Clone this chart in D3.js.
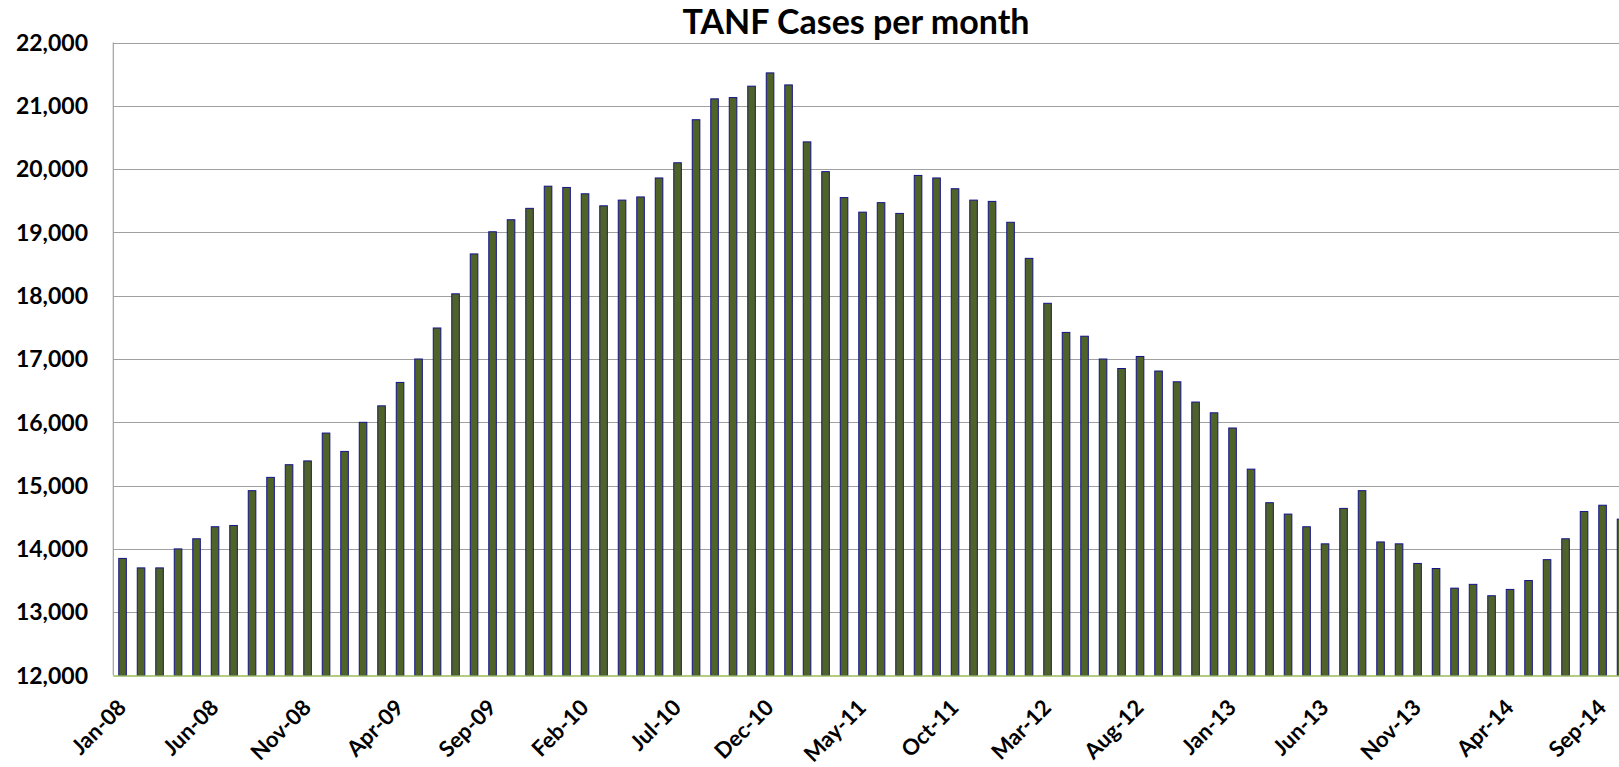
<!DOCTYPE html>
<html>
<head>
<meta charset="utf-8">
<script src="https://cdn.jsdelivr.net/npm/d3@7"></script>
<style>
  html, body { margin: 0; padding: 0; background: #fff; overflow: hidden; }
  svg { display: block; font-family: Lato, "Open Sans", sans-serif; }
</style>
</head>
<body>
<div id="chart"></div>
<script>
// months shown on the chart (last one is cut off at the right edge)
var months = [
  "Jan-08","Feb-08","Mar-08","Apr-08","May-08","Jun-08","Jul-08","Aug-08","Sep-08","Oct-08","Nov-08","Dec-08",
  "Jan-09","Feb-09","Mar-09","Apr-09","May-09","Jun-09","Jul-09","Aug-09","Sep-09","Oct-09","Nov-09","Dec-09",
  "Jan-10","Feb-10","Mar-10","Apr-10","May-10","Jun-10","Jul-10","Aug-10","Sep-10","Oct-10","Nov-10","Dec-10",
  "Jan-11","Feb-11","Mar-11","Apr-11","May-11","Jun-11","Jul-11","Aug-11","Sep-11","Oct-11","Nov-11","Dec-11",
  "Jan-12","Feb-12","Mar-12","Apr-12","May-12","Jun-12","Jul-12","Aug-12","Sep-12","Oct-12","Nov-12","Dec-12",
  "Jan-13","Feb-13","Mar-13","Apr-13","May-13","Jun-13","Jul-13","Aug-13","Sep-13","Oct-13","Nov-13","Dec-13",
  "Jan-14","Feb-14","Mar-14","Apr-14","May-14","Jun-14","Jul-14","Aug-14","Sep-14","Oct-14"
];

var cases = [
  13850, 13700, 13700, 14000, 14160, 14350, 14370, 14920, 15130, 15330, 15390, 15830,
  15540, 16000, 16260, 16630, 17000, 17490, 18030, 18660, 19010, 19200, 19380, 19730,
  19710, 19610, 19420, 19510, 19560, 19860, 20100, 20780, 21110, 21130, 21310, 21520,
  21330, 20430, 19960, 19550, 19320, 19470, 19300, 19900, 19860, 19690, 19510, 19490,
  19160, 18590, 17880, 17420, 17360, 17000, 16850, 17040, 16810, 16640, 16320, 16150,
  15910, 15260, 14730, 14550, 14350, 14080, 14640, 14920, 14110, 14080, 13770, 13690,
  13380, 13440, 13260, 13360, 13500, 13830, 14160, 14590, 14690, 14470
];

var xTickLabels = ["Jan-08","Jun-08","Nov-08","Apr-09","Sep-09","Feb-10","Jul-10","Dec-10","May-11",
  "Oct-11","Mar-12","Aug-12","Jan-13","Jun-13","Nov-13","Apr-14","Sep-14"];

var yTicks = [12000, 13000, 14000, 15000, 16000, 17000, 18000, 19000, 20000, 21000, 22000];

var width = 1619, height = 767;
var plotLeft = 113.3, plotTop = 42.5, plotBottom = 675.5;
var step = 18.5;

var svg = d3.select("#chart")
  .append("svg")
  .attr("width", width)
  .attr("height", height);

var x = d3.scaleBand()
  .domain(months)
  .range([plotLeft, plotLeft + step * months.length])
  .paddingInner(0.59)
  .paddingOuter(0.295);

var y = d3.scaleLinear()
  .domain([12000, 22000])
  .range([plotBottom, plotTop]);

// gridlines
svg.append("g")
  .selectAll("line")
  .data(yTicks.slice(1))
  .enter()
  .append("line")
    .attr("x1", plotLeft)
    .attr("x2", width)
    .attr("y1", function(d){ return Math.round(y(d)) + 0.5; })
    .attr("y2", function(d){ return Math.round(y(d)) + 0.5; })
    .style("stroke", "#a0a0a0")
    .style("stroke-width", 1.2);

// y axis line
svg.append("line")
  .attr("x1", plotLeft).attr("x2", plotLeft)
  .attr("y1", plotTop).attr("y2", plotBottom)
  .style("stroke", "#a0a0a0")
  .style("stroke-width", 1.2);

// bars
svg.append("g")
  .selectAll("rect")
  .data(cases)
  .enter()
  .append("rect")
    .attr("x", function(d, i){ return x(months[i]); })
    .attr("width", x.bandwidth())
    .attr("y", function(d){ return y(d); })
    .attr("height", function(d){ return y(12000) - y(d); })
    .style("fill", "#4f6228")
    .style("stroke", "#14148a")
    .style("stroke-width", 1);

// x axis baseline
svg.append("line")
  .attr("x1", plotLeft).attr("x2", width)
  .attr("y1", plotBottom + 0.5).attr("y2", plotBottom + 0.5)
  .style("stroke", "#9bbb59")
  .style("stroke-width", 1.5);

// y tick labels
svg.append("g")
  .selectAll("text")
  .data(yTicks)
  .enter()
  .append("text")
    .attr("x", 88)
    .attr("y", function(d){ return y(d); })
    .attr("dy", "0.36em")
    .style("text-anchor", "end")
    .style("font-size", "23px")
    .style("font-weight", "bold")
    .style("fill", "#000")
    .text(function(d){ return d3.format(",")(d); });

// x tick labels, rotated
svg.append("g")
  .selectAll("text")
  .data(xTickLabels)
  .enter()
  .append("text")
    .attr("transform", function(d){
      var cx = x(d) + x.bandwidth() / 2;
      return "translate(" + (cx + 5) + ",709) rotate(-45)";
    })
    .style("text-anchor", "end")
    .style("font-size", "22px")
    .style("font-weight", "bold")
    .style("fill", "#000")
    .text(function(d){ return d; });

// title
svg.append("text")
  .attr("x", 856)
  .attr("y", 34)
  .style("text-anchor", "middle")
  .style("font-size", "34px")
  .style("font-weight", "bold")
  .style("fill", "#000")
  .text("TANF Cases per month");
</script>
</body>
</html>
